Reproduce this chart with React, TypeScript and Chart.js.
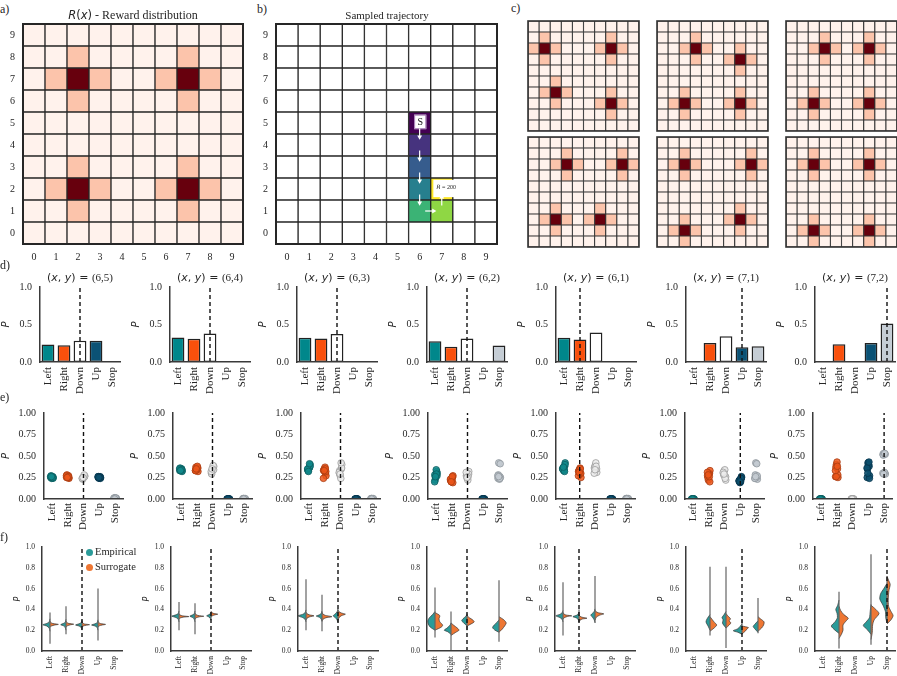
import React, { useEffect, useRef } from 'react';
import { Chart, registerables } from 'chart.js';

Chart.register(...registerables);

const SERIF = "'Liberation Serif', 'Times New Roman', serif";
const SANS = "'DejaVu Sans', 'Liberation Sans', sans-serif";
const TEXT = '#262626';
const AXIS = '#3a3a3a';

// ---------------- data: grids (rows listed top y=9 -> bottom y=0) ----------------
const GRID_TICKS = ['0', '1', '2', '3', '4', '5', '6', '7', '8', '9'];
const REWARD_LEVEL_COLORS = ['#fff2ec', '#fcc4ab', '#67000d'];

const REWARD_A = ['0000000000', '0010000100', '0121001210', '0010000100', '0000000000', '0000000000', '0010000100', '0121001210', '0010000100', '0000000000'];
const REWARD_C1 = ['0000000000', '0100000100', '1210001210', '0100000100', '0000000000', '0010000000', '0121000100', '0010001210', '0000000100', '0000000000'];
const REWARD_C2 = ['0000000000', '0001000000', '0012100100', '0001001210', '0000000100', '0000000000', '0010000100', '0121001210', '0010000100', '0000000000'];
const REWARD_C3 = ['0000000000', '0001000100', '0012101210', '0001000100', '0000000000', '0000000000', '0010000100', '0121001210', '0010000100', '0000000000'];
const REWARD_C4 = ['0000000000', '0001000010', '0012100121', '0001000010', '0000000000', '0000000000', '0010001000', '0121012100', '0010001000', '0000000000'];
const REWARD_C5 = ['0000000000', '0010000010', '0121000121', '0010000010', '0000000000', '0000000000', '0000000100', '0010001210', '0121000100', '0010000000'];
const REWARD_C6 = ['0000000000', '0010000100', '0121001210', '0010000100', '0000000000', '0000000000', '0000000000', '0010000100', '0121001210', '0010000100'];
const EMPTY_GRID = ['0000000000', '0000000000', '0000000000', '0000000000', '0000000000', '0000000000', '0000000000', '0000000000', '0000000000', '0000000000'];

const TRAJ_X = [6, 6, 6, 6, 6, 7, 7];
const TRAJ_Y = [5, 4, 3, 2, 1, 1, 2];
const TRAJ_COLORS = ['#440154', '#46337e', '#365c8d', '#277f8e', '#3bb375', '#8fd744', '#fde725'];
const START_LABEL = 'S';
const REWARD_LABEL_R = 'R';
const REWARD_LABEL_REST = ' = 200';

// ---------------- data: action panels ----------------
const ACTIONS = ['Left', 'Right', 'Down', 'Up', 'Stop'];
const STATES = ['(6,5)', '(6,4)', '(6,3)', '(6,2)', '(6,1)', '(7,1)', '(7,2)'];
const TRUE_ACTION = [2, 2, 2, 2, 1, 3, 4];

const D_YTICKS = ['0.0', '0.5', '1.0'];
const E_YTICKS = ['0.00', '0.25', '0.50', '0.75', '1.00'];
const F_YTICKS = ['0.0', '0.2', '0.4', '0.6', '0.8', '1.0'];

const BAR_6_5 = [0.233, 0.224, 0.282, 0.282, 0];
const BAR_6_4 = [0.327, 0.309, 0.381, 0, 0];
const BAR_6_3 = [0.323, 0.314, 0.372, 0, 0];
const BAR_6_2 = [0.278, 0.202, 0.314, 0, 0.22];
const BAR_6_1 = [0.323, 0.3, 0.394, 0, 0];
const BAR_7_1 = [0, 0.255, 0.345, 0.197, 0.211];
const BAR_7_2 = [0, 0.237, 0, 0.255, 0.515];
const BARS = [BAR_6_5, BAR_6_4, BAR_6_3, BAR_6_2, BAR_6_1, BAR_7_1, BAR_7_2];

const JITTER = [-0.07, 0.05, -0.02, 0.08, -0.05, 0.02, 0.07, -0.08, 0.04, -0.03];

const STRIP_6_5 = [
  [0.25, 0.26, 0.24, 0.25, 0.27, 0.25, 0.24, 0.26, 0.25, 0.26],
  [0.25, 0.27, 0.26, 0.24, 0.28, 0.26, 0.25, 0.27, 0.26, 0.25],
  [0.24, 0.26, 0.25, 0.27, 0.23, 0.25, 0.26, 0.24, 0.28, 0.25],
  [0.25, 0.26, 0.24, 0.25, 0.26, 0.25, 0.24, 0.26, 0.25, 0.25],
  [0.01, 0.0, 0.015, 0.005, 0.01, 0.0, 0.012, 0.005, 0.01, 0.0],
];
const STRIP_6_4 = [
  [0.33, 0.35, 0.34, 0.33, 0.36, 0.34, 0.32, 0.35, 0.34, 0.33],
  [0.33, 0.36, 0.35, 0.32, 0.37, 0.34, 0.36, 0.33, 0.38, 0.35],
  [0.3, 0.35, 0.33, 0.38, 0.29, 0.36, 0.34, 0.32, 0.39, 0.35],
  [0, 0, 0, 0, 0, 0, 0, 0, 0, 0],
  [0.005, 0, 0.005, 0, 0.005, 0, 0.005, 0, 0.005, 0],
];
const STRIP_6_3 = [
  [0.34, 0.37, 0.35, 0.4, 0.33, 0.36, 0.38, 0.35, 0.41, 0.32],
  [0.33, 0.3, 0.35, 0.27, 0.34, 0.37, 0.32, 0.24, 0.35, 0.33],
  [0.3, 0.35, 0.27, 0.4, 0.33, 0.24, 0.36, 0.31, 0.42, 0.29],
  [0, 0, 0, 0, 0, 0, 0, 0, 0, 0],
  [0.005, 0, 0.005, 0, 0.005, 0, 0.005, 0, 0.005, 0],
];
const STRIP_6_2 = [
  [0.28, 0.32, 0.25, 0.3, 0.22, 0.34, 0.27, 0.2, 0.29, 0.26],
  [0.22, 0.25, 0.2, 0.27, 0.21, 0.24, 0.19, 0.23, 0.26, 0.2],
  [0.27, 0.3, 0.24, 0.32, 0.28, 0.22, 0.29, 0.31, 0.26, 0.25],
  [0, 0, 0, 0, 0, 0, 0, 0, 0, 0],
  [0.24, 0.26, 0.42, 0.25, 0.28, 0.23, 0.41, 0.27, 0.24, 0.26],
];
const STRIP_6_1 = [
  [0.35, 0.38, 0.33, 0.42, 0.36, 0.34, 0.4, 0.35, 0.32, 0.37],
  [0.32, 0.29, 0.34, 0.25, 0.33, 0.36, 0.3, 0.27, 0.35, 0.31],
  [0.36, 0.33, 0.39, 0.31, 0.37, 0.42, 0.35, 0.3, 0.38, 0.34],
  [0, 0, 0, 0, 0, 0, 0, 0, 0, 0],
  [0.005, 0, 0.005, 0, 0.005, 0, 0.005, 0, 0.005, 0],
];
const STRIP_7_1 = [
  [0, 0, 0, 0, 0, 0, 0, 0, 0, 0],
  [0.27, 0.3, 0.22, 0.33, 0.25, 0.29, 0.2, 0.31, 0.26, 0.28],
  [0.3, 0.25, 0.33, 0.22, 0.28, 0.34, 0.26, 0.31, 0.24, 0.29],
  [0.21, 0.23, 0.19, 0.25, 0.22, 0.2, 0.26, 0.21, 0.24, 0.2],
  [0.24, 0.26, 0.42, 0.23, 0.28, 0.25, 0.27, 0.24, 0.41, 0.26],
];
const STRIP_7_2 = [
  [0, 0, 0, 0, 0, 0, 0, 0, 0, 0],
  [0.26, 0.35, 0.4, 0.25, 0.37, 0.43, 0.28, 0.33, 0.38, 0.26],
  [0, 0, 0, 0, 0, 0, 0, 0, 0, 0],
  [0.25, 0.38, 0.42, 0.27, 0.35, 0.4, 0.24, 0.36, 0.43, 0.3],
  [0.52, 0.3, 0.53, 0.29, 0.51, 0.31, 0.52, 0.3, 0.53, 0.29],
];
const STRIPS = [STRIP_6_5, STRIP_6_4, STRIP_6_3, STRIP_6_2, STRIP_6_1, STRIP_7_1, STRIP_7_2];

// violin halves: [value, half-width in category units]
type Violin = { emp: number[][]; sur: number[][]; range: number[] } | null;
const VIOLIN_6_5: Violin[] = [
  { emp: [[0.19, 0], [0.22, 0.05], [0.24, 0.2], [0.252, 0.45], [0.265, 0.2], [0.28, 0.05], [0.31, 0]], sur: [[0.228, 0], [0.24, 0.08], [0.25, 0.3], [0.256, 0.52], [0.264, 0.18], [0.275, 0.04], [0.29, 0]], range: [0.07, 0.37] },
  { emp: [[0.2, 0], [0.225, 0.05], [0.242, 0.15], [0.253, 0.33], [0.266, 0.15], [0.28, 0.04], [0.305, 0]], sur: [[0.228, 0], [0.242, 0.08], [0.252, 0.28], [0.258, 0.48], [0.266, 0.15], [0.277, 0.04], [0.29, 0]], range: [0.16, 0.43] },
  { emp: [[0.2, 0], [0.225, 0.05], [0.24, 0.18], [0.25, 0.4], [0.262, 0.18], [0.275, 0.04], [0.3, 0]], sur: [[0.228, 0], [0.24, 0.08], [0.248, 0.26], [0.253, 0.47], [0.26, 0.15], [0.27, 0.04], [0.285, 0]], range: [0.21, 0.29] },
  { emp: [[0.2, 0], [0.225, 0.05], [0.24, 0.18], [0.25, 0.4], [0.262, 0.18], [0.275, 0.04], [0.3, 0]], sur: [[0.228, 0], [0.242, 0.08], [0.25, 0.26], [0.256, 0.47], [0.264, 0.15], [0.275, 0.04], [0.29, 0]], range: [0.1, 0.6] },
  null,
];
const VIOLIN_6_4: Violin[] = [
  { emp: [[0.28, 0], [0.305, 0.05], [0.322, 0.18], [0.335, 0.45], [0.348, 0.18], [0.36, 0.05], [0.385, 0]], sur: [[0.305, 0], [0.318, 0.08], [0.326, 0.3], [0.331, 0.62], [0.338, 0.2], [0.348, 0.05], [0.36, 0]], range: [0.2, 0.47] },
  { emp: [[0.28, 0], [0.305, 0.05], [0.322, 0.14], [0.335, 0.32], [0.348, 0.14], [0.36, 0.04], [0.385, 0]], sur: [[0.305, 0], [0.32, 0.08], [0.329, 0.28], [0.334, 0.55], [0.342, 0.18], [0.352, 0.05], [0.365, 0]], range: [0.16, 0.46] },
  { emp: [[0.295, 0], [0.315, 0.05], [0.328, 0.14], [0.338, 0.27], [0.35, 0.12], [0.36, 0.04], [0.375, 0]], sur: [[0.325, 0], [0.338, 0.08], [0.348, 0.25], [0.354, 0.42], [0.362, 0.15], [0.372, 0.04], [0.385, 0]], range: [0.3, 0.37] },
  null,
  null,
];
const VIOLIN_6_3: Violin[] = [
  { emp: [[0.28, 0], [0.305, 0.06], [0.322, 0.22], [0.338, 0.5], [0.352, 0.22], [0.368, 0.06], [0.395, 0]], sur: [[0.295, 0], [0.315, 0.06], [0.328, 0.22], [0.338, 0.5], [0.348, 0.2], [0.36, 0.05], [0.375, 0]], range: [0.2, 0.69] },
  { emp: [[0.285, 0], [0.308, 0.05], [0.324, 0.16], [0.336, 0.36], [0.348, 0.16], [0.362, 0.05], [0.385, 0]], sur: [[0.285, 0], [0.305, 0.06], [0.32, 0.25], [0.33, 0.62], [0.342, 0.22], [0.356, 0.05], [0.375, 0]], range: [0.19, 0.54] },
  { emp: [[0.275, 0], [0.3, 0.06], [0.322, 0.18], [0.338, 0.3], [0.356, 0.18], [0.375, 0.06], [0.405, 0]], sur: [[0.295, 0], [0.32, 0.06], [0.34, 0.22], [0.354, 0.46], [0.366, 0.2], [0.38, 0.05], [0.395, 0]], range: [0.28, 0.4] },
  null,
  null,
];
const VIOLIN_6_2: Violin[] = [
  { emp: [[0.2, 0], [0.23, 0.3], [0.26, 0.42], [0.29, 0.45], [0.32, 0.35], [0.35, 0.15], [0.38, 0]], sur: [[0.2, 0], [0.23, 0.4], [0.25, 0.48], [0.28, 0.3], [0.31, 0.25], [0.34, 0.3], [0.37, 0]], range: [0.13, 0.61] },
  { emp: [[0.16, 0], [0.185, 0.2], [0.2, 0.42], [0.22, 0.25], [0.25, 0.05], [0.27, 0]], sur: [[0.15, 0], [0.18, 0.3], [0.2, 0.5], [0.22, 0.4], [0.25, 0.15], [0.27, 0]], range: [0.01, 0.38] },
  { emp: [[0.24, 0], [0.27, 0.2], [0.29, 0.33], [0.31, 0.25], [0.33, 0.1], [0.35, 0]], sur: [[0.24, 0], [0.26, 0.25], [0.28, 0.45], [0.3, 0.35], [0.32, 0.15], [0.34, 0]], range: [0.2, 0.36] },
  null,
  { emp: [[0.18, 0], [0.2, 0.25], [0.225, 0.4], [0.25, 0.3], [0.28, 0.1], [0.3, 0]], sur: [[0.18, 0], [0.21, 0.2], [0.24, 0.35], [0.27, 0.45], [0.3, 0.3], [0.33, 0]], range: [0.09, 0.68] },
];
const VIOLIN_6_1: Violin[] = [
  { emp: [[0.28, 0], [0.305, 0.06], [0.322, 0.2], [0.338, 0.45], [0.352, 0.2], [0.366, 0.06], [0.39, 0]], sur: [[0.305, 0], [0.32, 0.08], [0.332, 0.28], [0.338, 0.55], [0.346, 0.18], [0.357, 0.05], [0.372, 0]], range: [0.15, 0.66] },
  { emp: [[0.28, 0], [0.302, 0.05], [0.318, 0.16], [0.33, 0.38], [0.343, 0.16], [0.356, 0.05], [0.375, 0]], sur: [[0.28, 0], [0.296, 0.06], [0.308, 0.22], [0.315, 0.5], [0.325, 0.18], [0.336, 0.05], [0.35, 0]], range: [0.28, 0.4] },
  { emp: [[0.275, 0], [0.3, 0.05], [0.325, 0.16], [0.345, 0.26], [0.365, 0.14], [0.38, 0.05], [0.405, 0]], sur: [[0.295, 0], [0.325, 0.08], [0.345, 0.3], [0.357, 0.55], [0.368, 0.2], [0.38, 0.05], [0.395, 0]], range: [0.27, 0.72] },
  null,
  null,
];
const VIOLIN_7_1: Violin[] = [
  null,
  { emp: [[0.2, 0], [0.24, 0.12], [0.28, 0.25], [0.31, 0.18], [0.35, 0]], sur: [[0.19, 0], [0.22, 0.25], [0.25, 0.42], [0.28, 0.25], [0.33, 0]], range: [0.15, 0.81] },
  { emp: [[0.22, 0], [0.25, 0.15], [0.27, 0.22], [0.3, 0.18], [0.32, 0.25], [0.35, 0.12], [0.38, 0]], sur: [[0.22, 0], [0.25, 0.2], [0.27, 0.3], [0.29, 0.2], [0.31, 0.28], [0.34, 0.1], [0.36, 0]], range: [0.03, 0.81] },
  { emp: [[0.16, 0], [0.18, 0.25], [0.195, 0.55], [0.215, 0.25], [0.26, 0]], sur: [[0.165, 0], [0.19, 0.2], [0.21, 0.3], [0.225, 0.4], [0.24, 0]], range: [0.16, 0.3] },
  { emp: [[0.18, 0], [0.21, 0.18], [0.235, 0.3], [0.26, 0.18], [0.29, 0]], sur: [[0.19, 0], [0.22, 0.22], [0.25, 0.35], [0.28, 0.38], [0.31, 0.15], [0.33, 0]], range: [0.17, 0.51] },
];
const VIOLIN_7_2: Violin[] = [
  null,
  { emp: [[0.17, 0], [0.2, 0.25], [0.24, 0.48], [0.28, 0.25], [0.32, 0.1], [0.36, 0.12], [0.4, 0.2], [0.44, 0.08], [0.49, 0]], sur: [[0.12, 0], [0.16, 0.15], [0.2, 0.25], [0.25, 0.25], [0.29, 0.45], [0.315, 0.58], [0.35, 0.3], [0.39, 0.1], [0.43, 0]], range: [0.025, 0.57] },
  null,
  { emp: [[0.16, 0], [0.2, 0.2], [0.245, 0.48], [0.28, 0.3], [0.32, 0.1], [0.38, 0.05], [0.45, 0]], sur: [[0.11, 0], [0.18, 0.08], [0.25, 0.1], [0.3, 0.2], [0.36, 0.5], [0.4, 0.3], [0.44, 0]], range: [0.06, 0.93] },
  { emp: [[0.27, 0], [0.32, 0.08], [0.38, 0.1], [0.44, 0.25], [0.5, 0.45], [0.55, 0.4], [0.6, 0.2], [0.65, 0]], sur: [[0.26, 0], [0.3, 0.25], [0.34, 0.38], [0.38, 0.25], [0.43, 0.1], [0.5, 0.08], [0.58, 0.12], [0.64, 0.2], [0.68, 0.1], [0.72, 0]], range: [0.27, 0.72] },
];
const VIOLINS = [VIOLIN_6_5, VIOLIN_6_4, VIOLIN_6_3, VIOLIN_6_2, VIOLIN_6_1, VIOLIN_7_1, VIOLIN_7_2];

const LEGEND_LABELS = ['Empirical', 'Surrogate'];

// ---------------- styles ----------------
const BAR_FILL = ['#00878b', '#f9500c', '#ffffff', '#0b5275', '#c5cdd5'];
const STRIP_FILL = ['rgba(16,138,140,0.85)', 'rgba(236,86,26,0.85)', 'rgba(236,236,236,0.85)', 'rgba(12,80,110,0.9)', 'rgba(196,203,210,0.9)'];
const STRIP_EDGE = ['#0b5d5f', '#a83c12', '#9b9b9b', '#06354c', '#8e959c'];
const EMP_COLOR = '#2a9b99';
const SUR_COLOR = '#ee7733';

const ROW_D = { axisX: [40, 170, 297, 427, 556, 686, 815], top: 287, h: 75, w: 80, yW: 40, xH: 36, padT: 8, padR: 6, yPad: 8, xPad: 5, tick: 10, xTick: 11, pSize: 10 };
const ROW_E = { axisX: [44, 173, 301, 428, 556, 685, 813], top: 413, h: 86, w: 79, yW: 44, xH: 36, padT: 8, padR: 6, yPad: 8, xPad: 4, tick: 10, xTick: 11, pSize: 10 };
const ROW_F = { axisX: [42, 171, 298, 427, 555, 686, 815], top: 547, h: 104, w: 80, yW: 29, xH: 25, padT: 6, padR: 4, yPad: 7, xPad: 5, tick: 7.5, xTick: 7.5, pSize: 8 };

type Geo = typeof ROW_D;

// ---------------- helpers ----------------
const fixX = (h: number) => (s: any) => {
  s.height = h;
  s.paddingLeft = 0; s.paddingRight = 0; s.paddingTop = 0; s.paddingBottom = 0;
};
const fixY = (w: number) => (s: any) => {
  s.width = w;
  s.paddingLeft = 0; s.paddingRight = 0; s.paddingTop = 0; s.paddingBottom = 0;
};
const setTicks = (vals: number[]) => (s: any) => {
  s.ticks = vals.map((v) => ({ value: v }));
};

function ChartBox(props: { box: { left: number; top: number; width: number; height: number }; make: () => any }) {
  const ref = useRef<HTMLCanvasElement | null>(null);
  useEffect(() => {
    if (!ref.current) return;
    const chart = new Chart(ref.current, props.make());
    return () => chart.destroy();
  }, []);
  const { left, top, width, height } = props.box;
  return <canvas ref={ref} width={width} height={height} style={{ position: 'absolute', left, top, width, height, display: 'block' }} />;
}

const framePlugin = (lw: number, color: string) => ({
  id: 'frame',
  afterDatasetsDraw(chart: any) {
    const { ctx, chartArea: a } = chart;
    ctx.save();
    ctx.strokeStyle = color;
    ctx.lineWidth = lw;
    ctx.strokeRect(a.left, a.top, a.right - a.left, a.bottom - a.top);
    ctx.restore();
  },
});

function gridConfig(rows: string[], colorOf: (ch: string, c: number, yv: number) => string, o: any) {
  const cells: any[] = [];
  const colors: string[] = [];
  rows.forEach((row, r) => {
    const yv = rows.length - 1 - r;
    row.split('').forEach((ch, c) => {
      cells.push({ x: c + 0.5, y: [yv, yv + 1] });
      colors.push(colorOf(ch, c, yv));
    });
  });
  const tickVals = GRID_TICKS.map((_, i) => i + 0.5);
  const axis = (isX: boolean) => ({
    type: 'linear', min: 0, max: 10, offset: false, display: o.showTicks,
    grid: { display: false, drawTicks: false }, border: { display: false },
    ticks: { autoSkip: false, minRotation: 0, maxRotation: 0, padding: isX ? 7 : 8, color: TEXT, font: { family: SERIF, size: 10 }, callback: (_v: any, i: number) => GRID_TICKS[i] },
    afterBuildTicks: setTicks(tickVals),
    afterFit: isX ? fixX(o.xH) : fixY(o.yW),
  });
  return {
    type: 'bar',
    data: {
      datasets: [
        { type: 'bar', data: cells, backgroundColor: colors, borderColor: o.line, borderWidth: o.border, borderSkipped: false, barPercentage: 1, categoryPercentage: 1, order: 2 },
        ...(o.extra || []),
      ],
    },
    options: {
      animation: false, responsive: false, events: [],
      layout: { autoPadding: false, padding: { top: o.padT, right: o.padR, left: o.padL, bottom: o.padB } },
      plugins: { legend: { display: false }, tooltip: { enabled: false } },
      scales: { x: axis(true), y: axis(false) },
    },
    plugins: [framePlugin(o.frame, o.line), ...(o.plugins || [])],
  };
}

const rewardColor = (ch: string) => REWARD_LEVEL_COLORS[Number(ch)];

function trajColor(_ch: string, c: number, yv: number) {
  for (let k = 0; k < TRAJ_X.length; k++) if (TRAJ_X[k] === c && TRAJ_Y[k] === yv) return TRAJ_COLORS[k];
  return '#ffffff';
}

function trajArrows() {
  const ds: any[] = [];
  for (let k = 0; k < TRAJ_X.length - 1; k++) {
    const x0 = TRAJ_X[k] + 0.5, y0 = TRAJ_Y[k] + 0.5;
    const x1 = TRAJ_X[k + 1] + 0.5, y1 = TRAJ_Y[k + 1] + 0.5;
    const ux = x1 - x0, uy = y1 - y0;
    const mx = (x0 + x1) / 2, my = (y0 + y1) / 2;
    const rot = ux > 0 ? 90 : ux < 0 ? 270 : uy > 0 ? 0 : 180;
    ds.push({
      type: 'line',
      data: [{ x: mx - 0.25 * ux, y: my - 0.25 * uy }, { x: mx + 0.13 * ux, y: my + 0.13 * uy }],
      borderColor: '#ffffff', borderWidth: 1.2, pointRadius: [0, 2.8], pointStyle: 'triangle', pointRotation: rot,
      pointBackgroundColor: '#ffffff', pointBorderColor: '#ffffff', pointBorderWidth: 0, order: 1, clip: false,
    });
  }
  return ds;
}

const trajBoxes = {
  id: 'trajBoxes',
  afterDatasetDraw(chart: any, args: any) {
    if (args.index !== 0) return;
    const { ctx, scales } = chart;
    const X = (v: number) => scales.x.getPixelForValue(v);
    const Y = (v: number) => scales.y.getPixelForValue(v);
    ctx.save();
    // start box
    const sx = TRAJ_X[0], sy = TRAJ_Y[0];
    const l = X(sx + 0.25), r = X(sx + 0.8), t = Y(sy + 0.88), b = Y(sy + 0.22);
    ctx.fillStyle = '#ffffff';
    ctx.fillRect(l, t, r - l, b - t);
    ctx.strokeStyle = '#a57ab5';
    ctx.lineWidth = 1;
    ctx.strokeRect(l + 0.5, t + 0.5, r - l - 1, b - t - 1);
    ctx.fillStyle = '#111111';
    ctx.font = `10px ${SERIF}`;
    ctx.textAlign = 'center';
    ctx.textBaseline = 'middle';
    ctx.fillText(START_LABEL, (l + r) / 2, (t + b) / 2 + 0.5);
    // reward box
    const n = TRAJ_X.length - 1;
    const rx = TRAJ_X[n], ry = TRAJ_Y[n];
    const l2 = X(rx + 0.12), r2 = X(rx + 1.5), t2 = Y(ry + 0.92), b2 = Y(ry + 0.13);
    ctx.fillStyle = '#ffffff';
    ctx.fillRect(l2, t2, r2 - l2, b2 - t2);
    ctx.fillStyle = '#222222';
    ctx.textAlign = 'left';
    const fi = `italic 6px ${SANS}`, fn = `6px ${SERIF}`;
    ctx.font = fi;
    const w1 = ctx.measureText(REWARD_LABEL_R).width;
    ctx.font = fn;
    const w2 = ctx.measureText(REWARD_LABEL_REST).width;
    const cx = X(rx + 0.7), cy = Y(ry + 0.58);
    const start = cx - (w1 + w2) / 2;
    ctx.font = fi;
    ctx.fillText(REWARD_LABEL_R, start, cy);
    ctx.font = fn;
    ctx.fillText(REWARD_LABEL_REST, start + w1, cy);
    ctx.restore();
  },
};

function subBox(g: Geo, i: number) {
  return { left: g.axisX[i] - g.yW, top: g.top - g.padT, width: g.yW + g.w + g.padR, height: g.padT + g.h + g.xH };
}

function panelOptions(g: Geo, yTicks: string[]) {
  return {
    animation: false, responsive: false, events: [],
    layout: { autoPadding: false, padding: { top: g.padT, right: g.padR, left: 0, bottom: 0 } },
    plugins: { legend: { display: false }, tooltip: { enabled: false } },
    scales: {
      x: {
        type: 'linear', min: -0.5, max: 4.5, offset: false,
        grid: { display: false, drawTicks: false }, border: { display: true, color: AXIS, width: 1.5, z: 1 },
        ticks: { autoSkip: false, minRotation: 90, maxRotation: 90, padding: g.xPad, color: TEXT, font: { family: SERIF, size: g.xTick }, callback: (_v: any, i: number) => ACTIONS[i] },
        afterBuildTicks: setTicks(ACTIONS.map((_, i) => i)),
        afterFit: fixX(g.xH),
      },
      y: {
        type: 'linear', min: 0, max: 1,
        grid: { display: false, drawTicks: false }, border: { display: true, color: AXIS, width: 1.5, z: 1 },
        ticks: { autoSkip: false, padding: g.yPad, color: TEXT, font: { family: SERIF, size: g.tick }, callback: (_v: any, i: number) => yTicks[i] },
        afterBuildTicks: setTicks(yTicks.map(Number)),
        afterFit: fixY(g.yW),
        title: { display: true, text: 'P', color: TEXT, padding: 0, font: { family: SANS, style: 'italic', size: g.pSize } },
      },
    },
  };
}

const dashedLine = (t: number) => ({
  type: 'line', data: [{ x: t, y: 0 }, { x: t, y: 1 }], borderColor: '#111111', borderWidth: 1.4, borderDash: [4, 3],
  pointRadius: 0, order: 0, clip: 0, fill: false,
});

function barConfig(i: number) {
  return {
    type: 'bar',
    data: {
      datasets: [
        { type: 'bar', data: BARS[i].map((v, k) => ({ x: k, y: v })), backgroundColor: BAR_FILL, borderColor: '#222222', borderWidth: 1.5, borderSkipped: false, barPercentage: 0.8, categoryPercentage: 1, inflateAmount: 0, order: 2 },
        dashedLine(TRUE_ACTION[i]),
      ],
    },
    options: panelOptions(ROW_D, D_YTICKS),
  };
}

function stripConfig(i: number) {
  const datasets: any[] = STRIPS[i].map((vals, k) => ({
    type: 'scatter',
    data: vals.map((v, j) => ({ x: k + JITTER[j % JITTER.length], y: v })),
    pointRadius: 3.3, pointBackgroundColor: STRIP_FILL[k], pointBorderColor: STRIP_EDGE[k], pointBorderWidth: 0.8,
    showLine: false, clip: 0, order: 1,
  }));
  datasets.push(dashedLine(TRUE_ACTION[i]));
  return { type: 'scatter', data: { datasets }, options: panelOptions(ROW_E, E_YTICKS) };
}

function violinConfig(i: number) {
  const datasets: any[] = [];
  VIOLINS[i].forEach((v, k) => {
    if (!v) return;
    const half = (pts: number[][], side: number, color: string) => ({
      type: 'line',
      data: pts.map(([val, w]) => ({ x: k + side * w, y: val })),
      fill: 'shape', backgroundColor: color, borderColor: '#333333', borderWidth: 0.7, tension: 0.25,
      pointRadius: 0, order: 2, clip: 0,
    });
    datasets.push(half(v.emp, -1, EMP_COLOR));
    datasets.push(half(v.sur, 1, SUR_COLOR));
    datasets.push({ type: 'line', data: [{ x: k, y: v.range[0] }, { x: k, y: v.range[1] }], borderColor: 'rgba(100,100,100,0.8)', borderWidth: 1.5, pointRadius: 0, order: 1, fill: false, clip: 0 });
  });
  datasets.push(dashedLine(TRUE_ACTION[i]));
  return { type: 'scatter', data: { datasets }, options: panelOptions(ROW_F, F_YTICKS) };
}

function Txt({ x, y, children, size = 12, center = false, family = SERIF }: any) {
  return (
    <div style={{ position: 'absolute', left: x, top: y, transform: center ? 'translate(-50%, -50%)' : 'translate(0, -50%)', fontSize: size, lineHeight: 1, whiteSpace: 'nowrap', fontFamily: family, color: TEXT }}>
      {children}
    </div>
  );
}

const C_GRIDS = [REWARD_C1, REWARD_C2, REWARD_C3, REWARD_C4, REWARD_C5, REWARD_C6];
const C_POS = [[528, 21], [657, 21], [786, 21], [528, 137], [657, 137], [786, 137]];

export default function App() {
  return (
    <div style={{ position: 'absolute', left: 0, top: 0, width: 897, height: 676, background: '#ffffff', overflow: 'hidden', fontFamily: SERIF, color: TEXT }}>
      {/* panel a */}
      <ChartBox
        box={{ left: 0, top: 20, width: 249, height: 246 }}
        make={() => gridConfig(REWARD_A, rewardColor, { showTicks: true, border: 1, line: '#262626', frame: 2, yW: 23, xH: 22, padT: 4, padR: 6, padL: 0, padB: 0 })}
      />
      {/* panel b */}
      <ChartBox
        box={{ left: 258, top: 20, width: 245, height: 246 }}
        make={() => gridConfig(EMPTY_GRID, trajColor, { showTicks: true, border: 1, line: '#262626', frame: 2, yW: 18, xH: 22, padT: 4, padR: 6, padL: 0, padB: 0, extra: trajArrows(), plugins: [trajBoxes] })}
      />
      {/* panel c */}
      {C_GRIDS.map((g, i) => (
        <ChartBox
          key={'c' + i}
          box={{ left: C_POS[i][0] - 1, top: C_POS[i][1] - 1, width: 113, height: 112 }}
          make={() => gridConfig(g, rewardColor, { showTicks: false, border: 0.9, line: '#333333', frame: 1.6, yW: 0, xH: 0, padT: 1, padR: 1, padL: 1, padB: 1 })}
        />
      ))}
      {/* rows d, e, f */}
      {STATES.map((_, i) => <ChartBox key={'d' + i} box={subBox(ROW_D, i)} make={() => barConfig(i)} />)}
      {STATES.map((_, i) => <ChartBox key={'e' + i} box={subBox(ROW_E, i)} make={() => stripConfig(i)} />)}
      {STATES.map((_, i) => <ChartBox key={'f' + i} box={subBox(ROW_F, i)} make={() => violinConfig(i)} />)}

      {/* titles & labels */}
      <Txt x={0} y={9} size={12}>a)</Txt>
      <Txt x={257} y={9} size={12}>b)</Txt>
      <Txt x={511} y={8} size={12}>c)</Txt>
      <Txt x={0} y={265} size={12}>d)</Txt>
      <Txt x={0} y={397} size={12}>e)</Txt>
      <Txt x={0} y={537} size={12}>f)</Txt>
      <Txt x={133} y={15} size={12} center>
        <span style={{ fontFamily: SANS, fontSize: 11.5 }}><i>R</i>(<i>x</i>)</span> - Reward distribution
      </Txt>
      <Txt x={387} y={15} size={11} center>Sampled trajectory</Txt>
      {STATES.map((s, i) => (
        <Txt key={'t' + i} x={ROW_D.axisX[i] + ROW_D.w / 2} y={277} size={11} center>
          <span style={{ fontFamily: SANS, fontSize: 11 }}>(<i>x</i>, <i>y</i>) = </span>{s}
        </Txt>
      ))}
      {/* legend in f1 */}
      <div style={{ position: 'absolute', left: 86, top: 548.5, width: 7, height: 7, borderRadius: '50%', background: EMP_COLOR }} />
      <Txt x={95} y={552} size={10.5}>{LEGEND_LABELS[0]}</Txt>
      <div style={{ position: 'absolute', left: 86, top: 563.5, width: 7, height: 7, borderRadius: '50%', background: SUR_COLOR }} />
      <Txt x={95} y={567} size={10.5}>{LEGEND_LABELS[1]}</Txt>
    </div>
  );
}
